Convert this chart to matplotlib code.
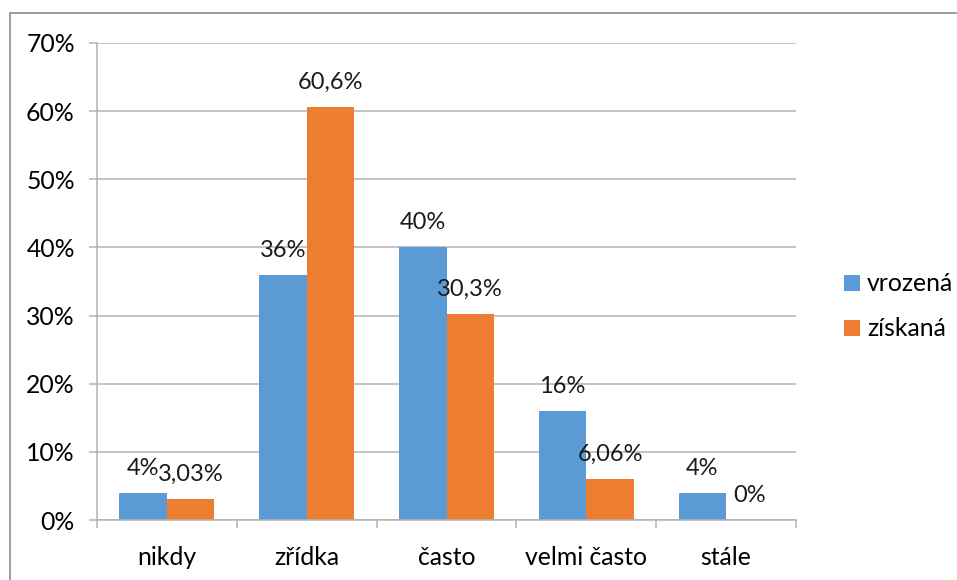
import matplotlib.pyplot as plt
from matplotlib.patches import Rectangle
import numpy as np

# data
categories = ["nikdy", "zřídka", "často", "velmi často", "stále"]
vrozena = [4, 36, 40, 16, 4]
ziskana = [3.03, 60.6, 30.3, 6.06, 0]
vrozena_labels = ["4%", "36%", "40%", "16%", "4%"]
ziskana_labels = ["3,03%", "60,6%", "30,3%", "6,06%", "0%"]
yticks = [0, 10, 20, 30, 40, 50, 60, 70]

plt.rcParams['font.family'] = ['Lato', 'DejaVu Sans']
fs = 17.8

W, H = 957, 580
fig = plt.figure(figsize=(W / 100, H / 100), dpi=100)

# outer chart border (only top/left visible in the reference)
fig.patches.append(Rectangle((10 / W, -0.1), 1.2, 1.1 - 13 / H, transform=fig.transFigure,
                             fill=False, edgecolor="#8c8c8c", linewidth=1.2))

ax = fig.add_axes([97 / W, (H - 520) / H, (796 - 97) / W, (520 - 43) / H])

grid_c = "#b3b3b3"
x = np.arange(len(categories))
w = 0.34
b1 = ax.bar(x - w / 2, vrozena, w, color="#5B9BD5", label="vrozená")
b2 = ax.bar(x + w / 2, ziskana, w, color="#ED7D31", label="získaná")

# popisky hodnot nad sloupci
for bars, labels in ((b1, vrozena_labels), (b2, ziskana_labels)):
    for bar, lab in zip(bars, labels):
        ax.annotate(lab, (bar.get_x() + bar.get_width() / 2, bar.get_height()),
                    xytext=(0, 13), textcoords="offset points",
                    ha="center", va="baseline", fontsize=17, color="#1a1a1a")

ax.set_xlim(-0.5, len(categories) - 0.5)
ax.set_ylim(0, 70)
ax.set_yticks(yticks)
ax.set_yticklabels([f"{t}%" for t in yticks], fontsize=fs)
ax.yaxis.grid(True, color=grid_c, linewidth=1.1)
ax.set_axisbelow(True)

# category labels in the middle, tick marks on boundaries
ax.set_xticks(x)
ax.set_xticklabels(categories, fontsize=fs)
ax.tick_params(axis="x", which="major", length=0, pad=19)
ax.set_xticks(np.arange(-0.5, len(categories)), minor=True)
ax.tick_params(axis="x", which="minor", length=6, color=grid_c, width=1.1)
ax.tick_params(axis="y", length=6, color=grid_c, width=1.1, pad=10)

for s in ("top", "right"):
    ax.spines[s].set_visible(False)
for s in ("left", "bottom"):
    ax.spines[s].set_color(grid_c)
    ax.spines[s].set_linewidth(1.1)

fig.legend(handles=[b1, b2], loc="upper left", bbox_to_anchor=(822 / W, 1 - 250 / H),
           frameon=False, fontsize=fs, handlelength=0.62, handleheight=0.62,
           handletextpad=0.3, labelspacing=0.9)

fig.savefig("out.png", dpi=100)
